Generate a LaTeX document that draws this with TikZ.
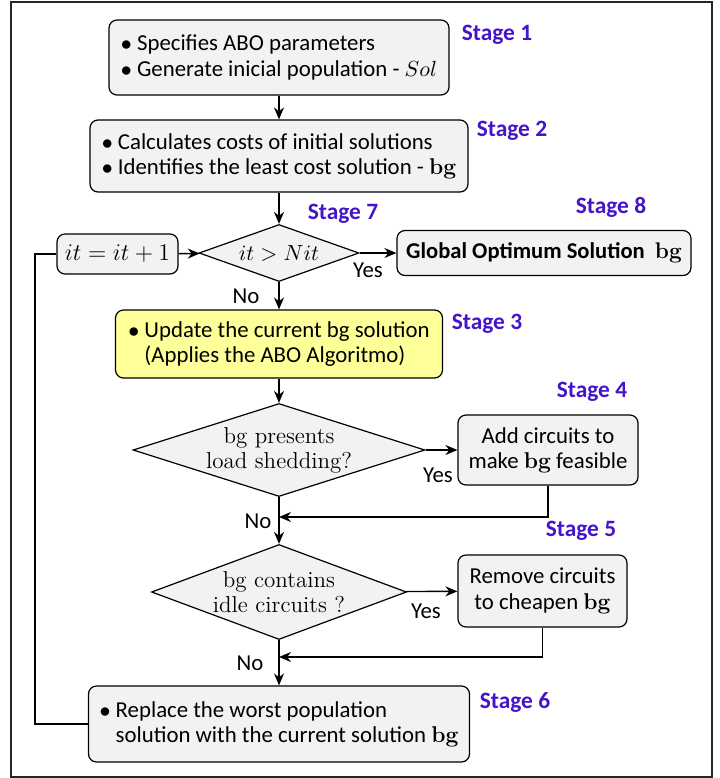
\documentclass[tikz,border=0pt]{standalone}
\usepackage{fontspec}
\setsansfont{Carlito}
\usetikzlibrary{shapes.geometric,arrows.meta,positioning}
\definecolor{stageblue}{RGB}{70,20,200}
\definecolor{boxgray}{RGB}{242,242,242}
\definecolor{boxyellow}{RGB}{255,255,153}
\newcommand{\bgb}{\textbf{\rmfamily bg}}
\newcommand{\bul}{$\bullet$\ }
\begin{document}
\begin{tikzpicture}[x=0.5pt, y=-0.5pt, font=\sffamily\fontsize{11.4}{12.6}\selectfont,
    block/.style={draw, rounded corners=4pt, fill=boxgray, line width=0.6pt, inner sep=2pt},
    decision/.style={draw, diamond, fill=boxgray, line width=0.6pt, inner sep=-3pt, align=center, font=\rmfamily\fontsize{11.5}{12.5}\selectfont},
    stagelabel/.style={text=stageblue, font=\sffamily\bfseries\fontsize{11.7}{13}\selectfont},
    arr/.style={-{Stealth[length=6pt, width=5pt]}, line width=0.7pt},
    line/.style={line width=0.7pt}]
  \useasboundingbox (0,0) rectangle (719,778);
  \draw[black!85, line width=0.8pt] (11,2) rectangle (712,777);

  % main column
  \node[block, minimum width=170pt, minimum height=37.5pt, align=left] (stage1) at (279,57.5)
    {\bul Specifies ABO parameters\\ \bul Generate inicial population - $Sol$};
  \node[block, minimum width=189pt, minimum height=36pt, align=left] (stage2) at (279,156)
    {\bul Calculates costs of initial solutions\\ \bul Identifies the least cost solution - \bgb};
  \node[decision, aspect=2.8, minimum width=80pt, minimum height=28.5pt, font=\fontsize{10.5}{12}\selectfont] (check) at (279,253) {$it > Nit$};
  \node[block, minimum width=60.5pt, minimum height=20pt, font=\fontsize{11.5}{13}\selectfont] (incr) at (117.5,254) {$it = it + 1$};
  \node[block, minimum width=147pt, minimum height=22.5pt, font=\sffamily\bfseries\fontsize{11.3}{12}\selectfont] (global) at (544,253)
    {Global Optimum Solution\ \ \bgb};
  \node[block, fill=boxyellow, minimum width=163.5pt, minimum height=34pt, align=left] (stage3) at (279,344)
    {\bul Update the current bg solution\\ \hphantom{\bul}(Applies the ABO Algoritmo)};
  \node[decision, aspect=3.1, minimum width=146pt, minimum height=46.5pt] (shed) at (279,450) {bg presents\\load shedding?};
  \node[block, minimum width=90pt, minimum height=35pt, align=center] (feas) at (548,450)
    {Add circuits to\\make \bgb{} feasible};
  \node[decision, aspect=2.7, minimum width=127.5pt, minimum height=47.5pt] (idle) at (279,592) {bg contains\\idle circuits ?};
  \node[block, minimum width=84.5pt, minimum height=36pt, align=center] (cheap) at (542.5,591)
    {Remove circuits\\to cheapen \bgb};
  \node[block, minimum width=190.5pt, minimum height=38pt, align=left] (stage6) at (279,724)
    {\bul Replace the worst population\\ \hphantom{\bul}solution with the current solution \bgb};

  % stage labels
  \node[stagelabel] (lab1) at (497,35) {Stage 1};
  \node[stagelabel] (lab2) at (512,131) {Stage 2};
  \node[stagelabel] (lab7) at (343,214) {Stage 7};
  \node[stagelabel] (lab8) at (611,207) {Stage 8};
  \node[stagelabel] (lab3) at (487,324) {Stage 3};
  \node[stagelabel] (lab4) at (592,392) {Stage 4};
  \node[stagelabel] (lab5) at (581,531) {Stage 5};
  \node[stagelabel] (lab6) at (515,702) {Stage 6};

  % yes / no
  \node (yes1) at (368,270) {Yes};
  \node (no1) at (246,296) {No};
  \node (yes2) at (438,475) {Yes};
  \node (no2) at (258,521) {No};
  \node (yes3) at (426,611) {Yes};
  \node (no3) at (250,663) {No};

  \coordinate (join1) at (279,517);
  \coordinate (join2) at (279,657);
  \coordinate (loopx) at (35,0);

  % connectors
  \draw[arr] (stage1) -- (stage2);
  \draw[arr] (stage2) -- (check);
  \draw[arr] (incr) -- (check);
  \draw[arr] (check) -- (global);
  \draw[arr] (check) -- (stage3);
  \draw[arr] (stage3) -- (shed);
  \draw[arr] (shed) -- (feas);
  \draw[arr] (shed) -- (idle);
  \draw[arr] (feas.south) |- (join1);
  \draw[arr] (idle) -- (cheap);
  \draw[arr] (idle) -- (stage6);
  \draw[arr] (cheap.south) |- (join2);
  \draw[line] (stage6.west) -- (stage6.west -| loopx) |- (incr.west);
\end{tikzpicture}
\end{document}
